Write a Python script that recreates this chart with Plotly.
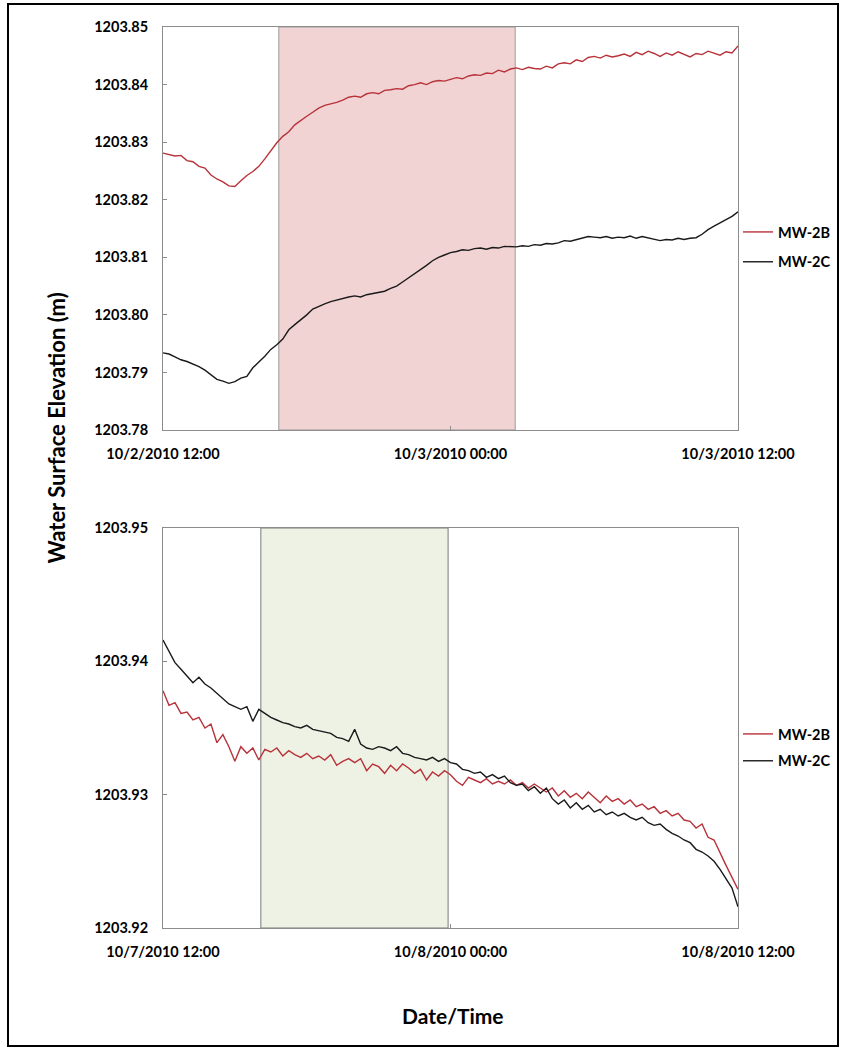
import plotly.graph_objects as go
import pandas as pd

# ---------------- data ----------------
top_start = "2010-10-02 12:00"
bot_start = "2010-10-07 12:00"
step_min = 15

top_mw2b = [
    1203.8281, 1203.8279, 1203.8276, 1203.8277, 1203.8268, 1203.8266, 1203.8258, 1203.8255,
    1203.8243, 1203.8236, 1203.8231, 1203.8224, 1203.8223, 1203.8233, 1203.8242, 1203.8249,
    1203.8258, 1203.8271, 1203.8285, 1203.8299, 1203.8310, 1203.8318, 1203.8330, 1203.8338,
    1203.8345, 1203.8352, 1203.8359, 1203.8364, 1203.8366, 1203.8369, 1203.8373, 1203.8378,
    1203.8380, 1203.8378, 1203.8384, 1203.8386, 1203.8384, 1203.8390, 1203.8391, 1203.8393,
    1203.8392, 1203.8398, 1203.8400, 1203.8403, 1203.8400, 1203.8405, 1203.8407, 1203.8406,
    1203.8409, 1203.8412, 1203.8410, 1203.8415, 1203.8417, 1203.8416, 1203.8420, 1203.8419,
    1203.8425, 1203.8422, 1203.8427, 1203.8429, 1203.8426, 1203.8430, 1203.8428, 1203.8427,
    1203.8432, 1203.8429, 1203.8436, 1203.8438, 1203.8436, 1203.8443, 1203.8440, 1203.8447,
    1203.8449, 1203.8446, 1203.8451, 1203.8448, 1203.8450, 1203.8453, 1203.8449, 1203.8456,
    1203.8452, 1203.8458, 1203.8454, 1203.8449, 1203.8455, 1203.8451, 1203.8457, 1203.8453,
    1203.8448, 1203.8454, 1203.8452, 1203.8458, 1203.8455, 1203.8451, 1203.8457, 1203.8455,
    1203.8467,
]

top_mw2c = [
    1203.7934, 1203.7932, 1203.7927, 1203.7922, 1203.7919, 1203.7915, 1203.7910, 1203.7904,
    1203.7896, 1203.7888, 1203.7885, 1203.7881, 1203.7884, 1203.7890, 1203.7893, 1203.7908,
    1203.7918, 1203.7928, 1203.7940, 1203.7948, 1203.7958, 1203.7974, 1203.7983, 1203.7991,
    1203.8000, 1203.8010, 1203.8015, 1203.8019, 1203.8023, 1203.8026, 1203.8029, 1203.8031,
    1203.8033, 1203.8031, 1203.8035, 1203.8037, 1203.8040, 1203.8041, 1203.8046, 1203.8050,
    1203.8057, 1203.8064, 1203.8071, 1203.8078, 1203.8086, 1203.8094, 1203.8100, 1203.8104,
    1203.8108, 1203.8110, 1203.8113, 1203.8112, 1203.8115, 1203.8116, 1203.8114, 1203.8117,
    1203.8116, 1203.8119, 1203.8118, 1203.8118, 1203.8120, 1203.8119, 1203.8122, 1203.8121,
    1203.8124, 1203.8123, 1203.8125, 1203.8129, 1203.8128, 1203.8131, 1203.8134, 1203.8136,
    1203.8135, 1203.8134, 1203.8136, 1203.8133, 1203.8135, 1203.8134, 1203.8137, 1203.8133,
    1203.8136, 1203.8134, 1203.8131, 1203.8129, 1203.8131, 1203.8130, 1203.8133, 1203.8131,
    1203.8133, 1203.8134, 1203.8140, 1203.8148, 1203.8154, 1203.8160, 1203.8166, 1203.8171,
    1203.8179,
]

bot_mw2b = [
    1203.9378, 1203.9367, 1203.9369, 1203.9361, 1203.9362, 1203.9356, 1203.9358, 1203.9350,
    1203.9353, 1203.9339, 1203.9345, 1203.9336, 1203.9325, 1203.9336, 1203.9331, 1203.9335,
    1203.9326, 1203.9334, 1203.9332, 1203.9335, 1203.9329, 1203.9333, 1203.9330, 1203.9328,
    1203.9331, 1203.9327, 1203.9329, 1203.9326, 1203.9330, 1203.9322, 1203.9325, 1203.9327,
    1203.9324, 1203.9327, 1203.9318, 1203.9323, 1203.9321, 1203.9316, 1203.9322, 1203.9318,
    1203.9323, 1203.9320, 1203.9316, 1203.9319, 1203.9311, 1203.9317, 1203.9314, 1203.9318,
    1203.9315, 1203.9310, 1203.9307, 1203.9313, 1203.9311, 1203.9309, 1203.9312, 1203.9308,
    1203.9310, 1203.9308, 1203.9311, 1203.9307, 1203.9309, 1203.9305, 1203.9308, 1203.9305,
    1203.9302, 1203.9305, 1203.9299, 1203.9303, 1203.9298, 1203.9301, 1203.9297, 1203.9302,
    1203.9298, 1203.9294, 1203.9299, 1203.9295, 1203.9297, 1203.9293, 1203.9296, 1203.9291,
    1203.9293, 1203.9289, 1203.9291, 1203.9286, 1203.9288, 1203.9284, 1203.9286, 1203.9281,
    1203.9280, 1203.9275, 1203.9278, 1203.9268, 1203.9266, 1203.9256, 1203.9247, 1203.9238,
    1203.9229,
]

bot_mw2c = [
    1203.9416, 1203.9407, 1203.9399, 1203.9394, 1203.9389, 1203.9384, 1203.9388, 1203.9383,
    1203.9380, 1203.9376, 1203.9372, 1203.9368, 1203.9366, 1203.9364, 1203.9366, 1203.9355,
    1203.9364, 1203.9361, 1203.9358, 1203.9356, 1203.9354, 1203.9353, 1203.9351, 1203.9350,
    1203.9352, 1203.9349, 1203.9348, 1203.9347, 1203.9346, 1203.9343, 1203.9342, 1203.9340,
    1203.9349, 1203.9338, 1203.9335, 1203.9334, 1203.9336, 1203.9335, 1203.9333, 1203.9336,
    1203.9331, 1203.9330, 1203.9328, 1203.9327, 1203.9326, 1203.9328, 1203.9325, 1203.9327,
    1203.9324, 1203.9323, 1203.9319, 1203.9318, 1203.9316, 1203.9317, 1203.9313, 1203.9315,
    1203.9312, 1203.9314, 1203.9309, 1203.9307, 1203.9308, 1203.9303, 1203.9306, 1203.9301,
    1203.9305, 1203.9297, 1203.9293, 1203.9296, 1203.9290, 1203.9294, 1203.9289, 1203.9292,
    1203.9287, 1203.9289, 1203.9285, 1203.9287, 1203.9284, 1203.9286, 1203.9283, 1203.9281,
    1203.9283, 1203.9279, 1203.9277, 1203.9278, 1203.9274, 1203.9271, 1203.9269, 1203.9266,
    1203.9264, 1203.9259, 1203.9257, 1203.9254, 1203.9250, 1203.9244, 1203.9237, 1203.9230,
    1203.9216,
]

top_shade = ["2010-10-02 16:50", "2010-10-03 02:42"]
bot_shade = ["2010-10-07 16:05", "2010-10-07 23:54"]

top_tickvals = ["2010-10-02 12:00", "2010-10-03 00:00", "2010-10-03 12:00"]
top_ticktext = ["10/2/2010 12:00", "10/3/2010 00:00", "10/3/2010 12:00"]
bot_tickvals = ["2010-10-07 12:00", "2010-10-08 00:00", "2010-10-08 12:00"]
bot_ticktext = ["10/7/2010 12:00", "10/8/2010 00:00", "10/8/2010 12:00"]

top_yticks = [1203.78, 1203.79, 1203.80, 1203.81, 1203.82, 1203.83, 1203.84, 1203.85]
bot_yticks = [1203.92, 1203.93, 1203.94, 1203.95]

series_names = ["MW-2B", "MW-2C"]
# --------------------------------------

top_t = pd.date_range(top_start, periods=len(top_mw2b), freq=f"{step_min}min")
bot_t = pd.date_range(bot_start, periods=len(bot_mw2b), freq=f"{step_min}min")

RED = "#B8323A"
BLACK = "#1A1A1A"
GRID = "#8C8C8C"
FONT = "Lato"

fig = go.Figure()

for vals, name, col, i in [(top_mw2b, series_names[0], RED, 0), (top_mw2c, series_names[1], BLACK, 1)]:
    fig.add_trace(go.Scatter(x=top_t, y=vals, mode="lines", name=name,
                             line=dict(color=col, width=1.4),
                             xaxis="x", yaxis="y", legend="legend",
                             legendgroup=f"t{i}"))
for vals, name, col, i in [(bot_mw2b, series_names[0], RED, 0), (bot_mw2c, series_names[1], BLACK, 1)]:
    fig.add_trace(go.Scatter(x=bot_t, y=vals, mode="lines", name=name,
                             line=dict(color=col, width=1.4),
                             xaxis="x2", yaxis="y2", legend="legend2",
                             legendgroup=f"b{i}"))

W, H = 846, 1050
ML, MR, MT, MB = 163, 846 - 738, 27, 1050 - 928
PW, PH = W - ML - MR, H - MT - MB

def py(pix):
    return 1 - (pix - MT) / PH

def px(pix):
    return (pix - ML) / PW

tickfont = dict(family=FONT, size=14.5, color="black", weight="bold")
legfont = dict(family=FONT, size=14.5, color="black", weight="bold")

common_x = dict(type="date", showgrid=False, zeroline=False, showline=True, linecolor=GRID,
                linewidth=1, mirror=True, ticks="inside", ticklen=4, tickcolor=GRID,
                tickfont=tickfont, ticklabelstandoff=11)
common_y = dict(showgrid=False, zeroline=False, showline=True, linecolor=GRID, linewidth=1,
                mirror=True, ticks="inside", ticklen=4, tickcolor=GRID, tickfont=tickfont,
                ticklabelstandoff=11)

fig.update_layout(
    width=W, height=H,
    margin=dict(l=ML, r=MR, t=MT, b=MB, autoexpand=False),
    paper_bgcolor="white", plot_bgcolor="white",
    font=dict(family=FONT, color="black"),
    xaxis=dict(common_x, domain=[0, 1], anchor="y",
               range=[top_tickvals[0], top_tickvals[-1]],
               tickvals=top_tickvals, ticktext=top_ticktext),
    yaxis=dict(common_y, domain=[py(430), 1], anchor="x",
               range=[top_yticks[0], top_yticks[-1]],
               tickvals=top_yticks, ticktext=[f"{v:.2f}" for v in top_yticks]),
    xaxis2=dict(common_x, domain=[0, 1], anchor="y2",
                range=[bot_tickvals[0], bot_tickvals[-1]],
                tickvals=bot_tickvals, ticktext=bot_ticktext),
    yaxis2=dict(common_y, domain=[0, py(528)], anchor="x2",
                range=[bot_yticks[0], bot_yticks[-1]],
                tickvals=bot_yticks, ticktext=[f"{v:.2f}" for v in bot_yticks]),
    legend=dict(x=px(738), y=py(216), xanchor="left", yanchor="top",
                traceorder="grouped", tracegroupgap=8, itemwidth=30,
                font=legfont, bgcolor="rgba(0,0,0,0)"),
    legend2=dict(x=px(738), y=py(718), xanchor="left", yanchor="top",
                 traceorder="grouped", tracegroupgap=5, itemwidth=30,
                 font=legfont, bgcolor="rgba(0,0,0,0)"),
    showlegend=True,
)

# shaded periods
fig.add_shape(type="rect", xref="x", yref="y domain", x0=top_shade[0], x1=top_shade[1],
              y0=0, y1=1, fillcolor="#F2D3D3", line=dict(color="#9A9A9A", width=1),
              layer="below")
fig.add_shape(type="rect", xref="x2", yref="y2 domain", x0=bot_shade[0], x1=bot_shade[1],
              y0=0, y1=1, fillcolor="#EEF2E5", line=dict(color="#7A7A7A", width=1),
              layer="below")

# outer frame
fig.add_shape(type="rect", xref="paper", yref="paper",
              x0=px(8), x1=px(838), y0=py(1046), y1=py(4),
              line=dict(color="black", width=2), fillcolor="rgba(0,0,0,0)")

# axis titles
fig.add_annotation(text="Water Surface Elevation (m)", xref="paper", yref="paper",
                   x=px(40), y=py(428), textangle=-90, showarrow=False,
                   font=dict(family=FONT, size=22, color="black", weight="bold"))
fig.add_annotation(text="Date/Time", xref="paper", yref="paper",
                   x=px(453), y=py(1030), showarrow=False,
                   font=dict(family=FONT, size=21, color="black", weight="bold"))

fig.write_html("out.html", config={"displayModeBar": False},
               post_script="document.body.style.margin='0px';")
